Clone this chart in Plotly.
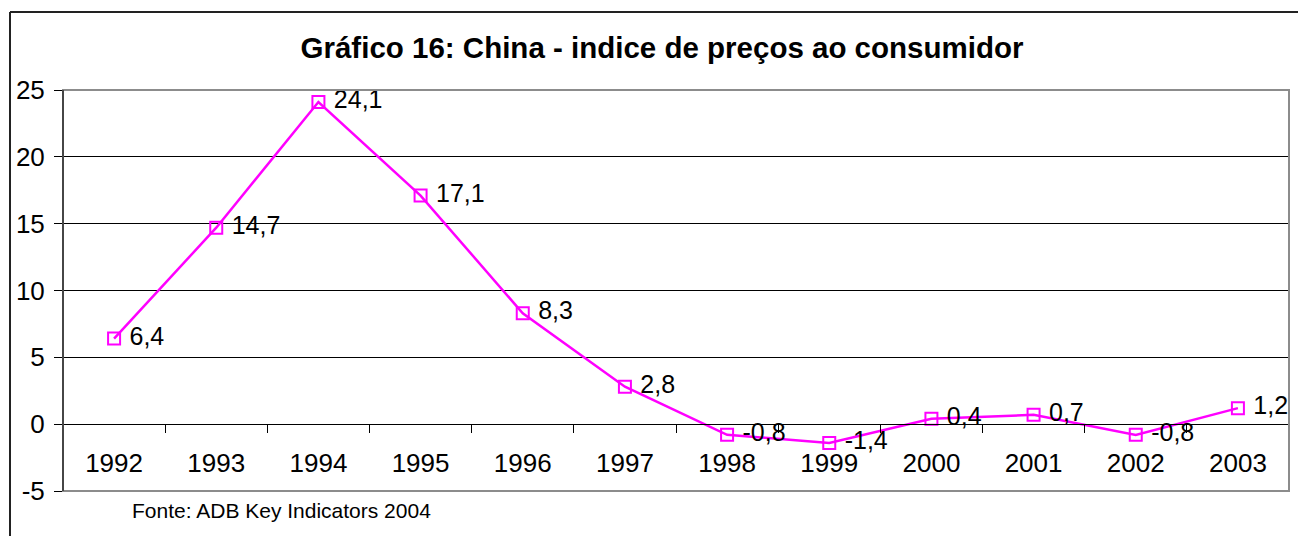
import plotly.graph_objects as go

anos = ["1992", "1993", "1994", "1995", "1996", "1997",
        "1998", "1999", "2000", "2001", "2002", "2003"]
ipc = [6.4, 14.7, 24.1, 17.1, 8.3, 2.8, -0.8, -1.4, 0.4, 0.7, -0.8, 1.2]
rotulos = [" " + f"{v:.1f}".replace(".", ",") for v in ipc]
y_ticks = [-5, 0, 5, 10, 15, 20, 25]
y_ticktext = ["-5", "0", "5", "10", "15", "20", "25"]

W, H = 1298, 536
ML, MR, MT, MB = 63, 9, 90, 45
y_min, y_max = -5, 25
# posição do eixo x (y = 0) em coordenadas de papel
pos_zero = (0 - y_min) / (y_max - y_min)
PW, PH = W - ML - MR, H - MT - MB

MAGENTA = "#FF00FF"
FONTE = "Liberation Sans, Arial, sans-serif"

fig = go.Figure()
fig.add_trace(go.Scatter(
    x=anos, y=ipc,
    mode="lines+markers+text",
    text=rotulos,
    textposition="middle right",
    textfont=dict(family=FONTE, size=25, color="black"),
    line=dict(color=MAGENTA, width=2.5),
    marker=dict(symbol="square-open", size=12, color=MAGENTA, line=dict(width=2)),
    cliponaxis=False,
    showlegend=False,
))

fig.update_layout(
    width=W, height=H,
    paper_bgcolor="white",
    plot_bgcolor="white",
    margin=dict(l=ML, r=MR, t=MT, b=MB, autoexpand=False),
    font=dict(family=FONTE, color="black", size=25),
    title=dict(
        text="<b>Gráfico 16: China - indice de preços ao consumidor</b>",
        x=(662 - ML) / PW, xref="paper", xanchor="center",
        y=1 - 48 / H, yref="container", yanchor="middle",
        font=dict(family=FONTE, size=29.5, color="black"),
        automargin=False,
    ),
    xaxis=dict(
        type="category",
        range=[-0.5, len(anos) - 0.5],
        anchor="free",
        position=pos_zero,
        automargin=False,
        showline=True, linecolor="black", linewidth=1,
        ticks="outside", ticklen=8, tickcolor="black",
        tickson="boundaries",
        ticklabelstandoff=16,
        showgrid=False,
        zeroline=False,
        tickfont=dict(size=26),
    ),
    yaxis=dict(
        range=[y_min, y_max],
        tickvals=y_ticks,
        ticktext=y_ticktext,
        automargin=False,
        showline=True, linecolor="black", linewidth=1,
        ticks="outside", ticklen=8, tickcolor="black",
        ticklabelstandoff=4,
        showgrid=True, gridcolor="black", gridwidth=1,
        zeroline=False,
        tickfont=dict(size=26),
    ),
    shapes=[
        # borda cinza da área do gráfico
        dict(type="rect", xref="paper", yref="paper", x0=0, x1=1, y0=0, y1=1,
             line=dict(color="#8c8c8c", width=2), layer="above"),
        dict(type="line", xref="paper", yref="paper", x0=0, x1=0, y0=0, y1=1,
             line=dict(color="black", width=1), layer="above"),
        # borda externa do gráfico (recortada)
        dict(type="line", xref="paper", yref="paper",
             x0=(10 - ML) / PW, x1=1.05,
             y0=1 + (MT - 12) / PH, y1=1 + (MT - 12) / PH,
             line=dict(color="#222222", width=2)),
        dict(type="line", xref="paper", yref="paper",
             x0=(10 - ML) / PW, x1=(10 - ML) / PW,
             y0=-0.2, y1=1 + (MT - 12) / PH,
             line=dict(color="#222222", width=2)),
    ],
    annotations=[dict(
        text="Fonte: ADB Key Indicators 2004",
        xref="paper", yref="paper",
        x=(130 - ML) / PW, xanchor="left",
        y=-(510 - (H - MB)) / PH, yanchor="middle",
        showarrow=False,
        font=dict(family=FONTE, size=21, color="black"),
    )],
)

# a página tem margem padrão de 8px no body; zerar para alinhar com a referência
fig.write_html("out.html", config={"displayModeBar": False},
               post_script="document.body.style.margin='0';")
